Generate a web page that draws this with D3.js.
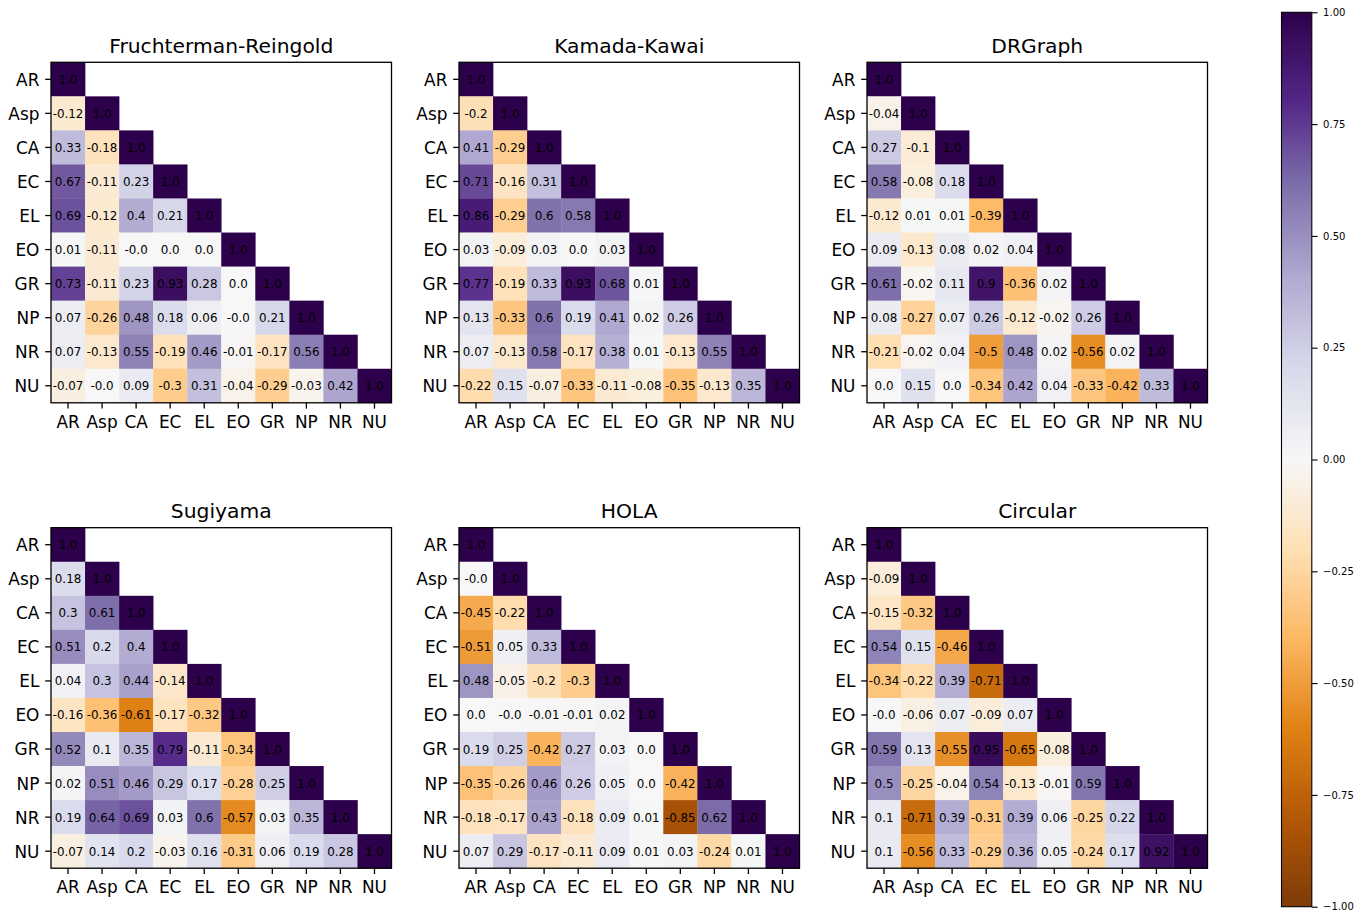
<!DOCTYPE html>
<html>
<head>
<meta charset="utf-8">
<script src="https://cdn.jsdelivr.net/npm/d3@7"></script>
<style>
  html, body { margin: 0; padding: 0; background: #fff; }
  svg { display: block; font-family: "DejaVu Sans", sans-serif; }
</style>
</head>
<body>
<svg id="chart" width="1365" height="914"></svg>
<script>
// ---------------- data ----------------
const metrics = ["AR", "Asp", "CA", "EC", "EL", "EO", "GR", "NP", "NR", "NU"];
const layoutNames = ["Fruchterman-Reingold", "Kamada-Kawai", "DRGraph", "Sugiyama", "HOLA", "Circular"];

const frValues = [
  [1.0],
  [-0.12, 1.0],
  [0.33, -0.18, 1.0],
  [0.67, -0.11, 0.23, 1.0],
  [0.69, -0.12, 0.4, 0.21, 1.0],
  [0.01, -0.11, -0.0, 0.0, 0.0, 1.0],
  [0.73, -0.11, 0.23, 0.93, 0.28, 0.0, 1.0],
  [0.07, -0.26, 0.48, 0.18, 0.06, -0.0, 0.21, 1.0],
  [0.07, -0.13, 0.55, -0.19, 0.46, -0.01, -0.17, 0.56, 1.0],
  [-0.07, -0.0, 0.09, -0.3, 0.31, -0.04, -0.29, -0.03, 0.42, 1.0]
];
const kkValues = [
  [1.0],
  [-0.2, 1.0],
  [0.41, -0.29, 1.0],
  [0.71, -0.16, 0.31, 1.0],
  [0.86, -0.29, 0.6, 0.58, 1.0],
  [0.03, -0.09, 0.03, 0.0, 0.03, 1.0],
  [0.77, -0.19, 0.33, 0.93, 0.68, 0.01, 1.0],
  [0.13, -0.33, 0.6, 0.19, 0.41, 0.02, 0.26, 1.0],
  [0.07, -0.13, 0.58, -0.17, 0.38, 0.01, -0.13, 0.55, 1.0],
  [-0.22, 0.15, -0.07, -0.33, -0.11, -0.08, -0.35, -0.13, 0.35, 1.0]
];
const drValues = [
  [1.0],
  [-0.04, 1.0],
  [0.27, -0.1, 1.0],
  [0.58, -0.08, 0.18, 1.0],
  [-0.12, 0.01, 0.01, -0.39, 1.0],
  [0.09, -0.13, 0.08, 0.02, 0.04, 1.0],
  [0.61, -0.02, 0.11, 0.9, -0.36, 0.02, 1.0],
  [0.08, -0.27, 0.07, 0.26, -0.12, -0.02, 0.26, 1.0],
  [-0.21, -0.02, 0.04, -0.5, 0.48, 0.02, -0.56, 0.02, 1.0],
  [0.0, 0.15, 0.0, -0.34, 0.42, 0.04, -0.33, -0.42, 0.33, 1.0]
];
const sugValues = [
  [1.0],
  [0.18, 1.0],
  [0.3, 0.61, 1.0],
  [0.51, 0.2, 0.4, 1.0],
  [0.04, 0.3, 0.44, -0.14, 1.0],
  [-0.16, -0.36, -0.61, -0.17, -0.32, 1.0],
  [0.52, 0.1, 0.35, 0.79, -0.11, -0.34, 1.0],
  [0.02, 0.51, 0.46, 0.29, 0.17, -0.28, 0.25, 1.0],
  [0.19, 0.64, 0.69, 0.03, 0.6, -0.57, 0.03, 0.35, 1.0],
  [-0.07, 0.14, 0.2, -0.03, 0.16, -0.31, 0.06, 0.19, 0.28, 1.0]
];
const holaValues = [
  [1.0],
  [-0.0, 1.0],
  [-0.45, -0.22, 1.0],
  [-0.51, 0.05, 0.33, 1.0],
  [0.48, -0.05, -0.2, -0.3, 1.0],
  [0.0, -0.0, -0.01, -0.01, 0.02, 1.0],
  [0.19, 0.25, -0.42, 0.27, 0.03, 0.0, 1.0],
  [-0.35, -0.26, 0.46, 0.26, 0.05, 0.0, -0.42, 1.0],
  [-0.18, -0.17, 0.43, -0.18, 0.09, 0.01, -0.85, 0.62, 1.0],
  [0.07, 0.29, -0.17, -0.11, 0.09, 0.01, 0.03, -0.24, 0.01, 1.0]
];
const circValues = [
  [1.0],
  [-0.09, 1.0],
  [-0.15, -0.32, 1.0],
  [0.54, 0.15, -0.46, 1.0],
  [-0.34, -0.22, 0.39, -0.71, 1.0],
  [-0.0, -0.06, 0.07, -0.09, 0.07, 1.0],
  [0.59, 0.13, -0.55, 0.95, -0.65, -0.08, 1.0],
  [0.5, -0.25, -0.04, 0.54, -0.13, -0.01, 0.59, 1.0],
  [0.1, -0.71, 0.39, -0.31, 0.39, 0.06, -0.25, 0.22, 1.0],
  [0.1, -0.56, 0.33, -0.29, 0.36, 0.05, -0.24, 0.17, 0.92, 1.0]
];
const colorbarTicks = [1.0, 0.75, 0.5, 0.25, 0.0, -0.25, -0.5, -0.75, -1.0];

// PuOr (colorbrewer, as used by matplotlib), linearly interpolated
const puorColors = ["#7f3b08","#b35806","#e08214","#fdb863","#fee0b6","#f7f7f7",
                    "#d8daeb","#b2abd2","#8073ac","#542788","#2d004b"];

// ---------------- drawing ----------------
const svg = d3.select("#chart");
const color = d3.scaleLinear()
  .domain(d3.range(11).map(i => -1 + i * 0.2))
  .range(puorColors)
  .interpolate(d3.interpolateRgb)
  .clamp(true);

const matrices = [frValues, kkValues, drValues, sugValues, holaValues, circValues];
const colLefts = [51, 459, 867];
const rowTops = [62.3, 527.7];
const size = 340.5;

function fmt(v) {
  if (Object.is(v, -0)) return "-0.0";
  let s = String(v);
  if (!s.includes(".")) s += ".0";
  return s;
}

matrices.forEach((mat, k) => {
  const left = colLefts[k % 3];
  const top = rowTops[Math.floor(k / 3)];
  const x = d3.scaleBand().domain(metrics).range([left, left + size]);
  const y = d3.scaleBand().domain(metrics).range([top, top + size]);

  const cells = [];
  mat.forEach((row, i) => row.forEach((v, j) => cells.push({ r: metrics[i], c: metrics[j], v })));

  const g = svg.append("g");
  g.selectAll("rect.cell").data(cells).enter().append("rect")
    .attr("class", "cell")
    .attr("x", d => x(d.c))
    .attr("y", d => y(d.r))
    .attr("width", x.bandwidth() + 0.3)
    .attr("height", y.bandwidth() + 0.3)
    .attr("fill", d => color(d.v));

  g.selectAll("text.val").data(cells).enter().append("text")
    .attr("class", "val")
    .attr("x", d => x(d.c) + x.bandwidth() / 2)
    .attr("y", d => y(d.r) + y.bandwidth() / 2)
    .attr("text-anchor", "middle")
    .attr("dy", "0.38em")
    .attr("font-size", "11.9px")
    .attr("fill", "#000")
    .text(d => fmt(d.v));

  // frame
  g.append("rect")
    .attr("x", left).attr("y", top)
    .attr("width", size).attr("height", size)
    .attr("fill", "none").attr("stroke", "#000").attr("stroke-width", 1.3);

  // axes
  const ax = g.append("g").attr("transform", `translate(0,${top + size})`)
    .call(d3.axisBottom(x).tickSize(5.8).tickPadding(7.2).tickSizeOuter(0));
  const ay = g.append("g").attr("transform", `translate(${left},0)`)
    .call(d3.axisLeft(y).tickSize(5.8).tickPadding(5.8).tickSizeOuter(0));
  [ax, ay].forEach(a => {
    a.select(".domain").remove();
    a.selectAll("line").attr("stroke", "#000").attr("stroke-width", 1.3);
    a.selectAll("text").attr("font-size", "16.9px").attr("font-family", "DejaVu Sans").attr("fill", "#000");
  });
  ay.selectAll("text").attr("dy", "0.38em");

  g.append("text")
    .attr("x", left + size / 2)
    .attr("y", top - 9.8)
    .attr("text-anchor", "middle")
    .attr("font-size", "20.3px")
    .attr("fill", "#000")
    .text(layoutNames[k]);
});

// ---------------- colorbar ----------------
const cbLeft = 1281.5, cbWidth = 30.3, cbTop = 12.3, cbBottom = 906.7;
const cbScale = d3.scaleLinear().domain([-1, 1]).range([cbBottom, cbTop]);
const defs = svg.append("defs");
const grad = defs.append("linearGradient").attr("id", "cbgrad")
  .attr("x1", 0).attr("y1", 1).attr("x2", 0).attr("y2", 0);
d3.range(0, 1.0001, 0.02).forEach(t => {
  grad.append("stop").attr("offset", t).attr("stop-color", color(-1 + 2 * t));
});
svg.append("rect")
  .attr("x", cbLeft).attr("y", cbTop)
  .attr("width", cbWidth).attr("height", cbBottom - cbTop)
  .attr("fill", "url(#cbgrad)")
  .attr("stroke", "#000").attr("stroke-width", 1.1);

const cbAxis = svg.append("g").attr("transform", `translate(${cbLeft + cbWidth},0)`)
  .call(d3.axisRight(cbScale).tickValues(colorbarTicks).tickFormat(d3.format(".2f"))
        .tickSize(5.8).tickPadding(5.5).tickSizeOuter(0));
cbAxis.select(".domain").remove();
cbAxis.selectAll("line").attr("stroke", "#000").attr("stroke-width", 1.1);
cbAxis.selectAll("text").attr("font-size", "10px").attr("font-family", "DejaVu Sans").attr("fill", "#000");
</script>
</body>
</html>
